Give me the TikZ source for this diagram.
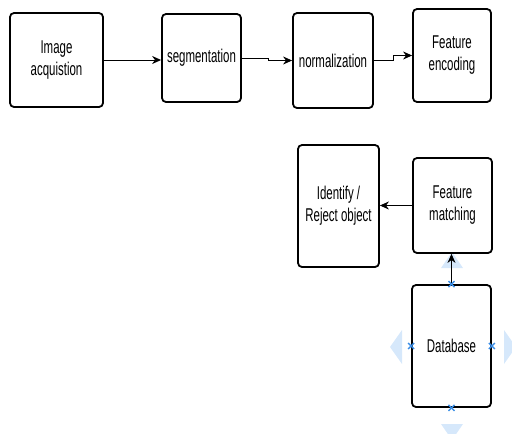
\documentclass[tikz,border=0pt]{standalone}
\usepackage{fontspec}
\setmainfont{Liberation Sans}[FakeStretch=0.62]
\usetikzlibrary{arrows.meta}
\definecolor{selblue}{HTML}{3B8EE6}
\definecolor{hintblue}{HTML}{D6E8FB}
\tikzset{
  x=1pt, y=-1pt,
  stepbox/.style={draw=black, line width=1.8pt, rounded corners=4pt, align=center,
    inner sep=0pt, font=\fontsize{18.5}{22}\selectfont, text=black},
  arr/.style={draw=black, line width=1pt, -{Stealth[length=9pt,width=8pt]}},
  selx/.style={draw=selblue, line width=1.3pt},
  hint/.style={fill=hintblue, draw=none}
}
\begin{document}
\begin{tikzpicture}
\useasboundingbox (0,0) rectangle (512,434);
% hints (drawn first, behind)
\fill[hint] (452,252) -- (441,268) -- (463,268) -- cycle;
\fill[hint] (452,440) -- (441,424) -- (463,424) -- cycle;
\fill[hint] (390,347) -- (402,330) -- (402,364) -- cycle;
\fill[hint] (516,347) -- (504,330) -- (504,364) -- cycle;

\node[stepbox, minimum width=93pt, minimum height=94pt] (a) at (56.5,60) {Image\\acquistion};
\node[stepbox, minimum width=79pt, minimum height=88pt] (b) at (201.5,58) {segmentation};
\node[stepbox, minimum width=80pt, minimum height=95pt] (c) at (333,60.5) {normalization};
\node[stepbox, minimum width=78pt, minimum height=93pt] (d) at (452,55.5) {Feature\\encoding};
\node[stepbox, minimum width=81pt, minimum height=122pt] (e) at (338.5,206) {Identify /\\Reject object};
\node[stepbox, minimum width=79pt, minimum height=95pt] (f) at (452.5,205.5) {Feature\\matching};
\node[stepbox, minimum width=79pt, minimum height=122pt] (g) at (451.5,346) {Database};

\draw[arr] (a.east) -- (a.east -| b.west);
\draw[arr] (b.east) -- ++(27,0) |- (c.west);
\draw[arr] (c.east) -- ++(20,0) |- (d.west);
\draw[arr] (f.west) -- (f.west -| e.east);
\draw[arr] (g.north) -- (g.north |- f.south);

% selection markers
\foreach \p in {g.north, g.south, g.west, g.east}{
  \draw[selx] ([shift={(-3,-3)}]\p) -- ([shift={(3,3)}]\p);
  \draw[selx] ([shift={(-3,3)}]\p) -- ([shift={(3,-3)}]\p);
}
\end{tikzpicture}
\end{document}
